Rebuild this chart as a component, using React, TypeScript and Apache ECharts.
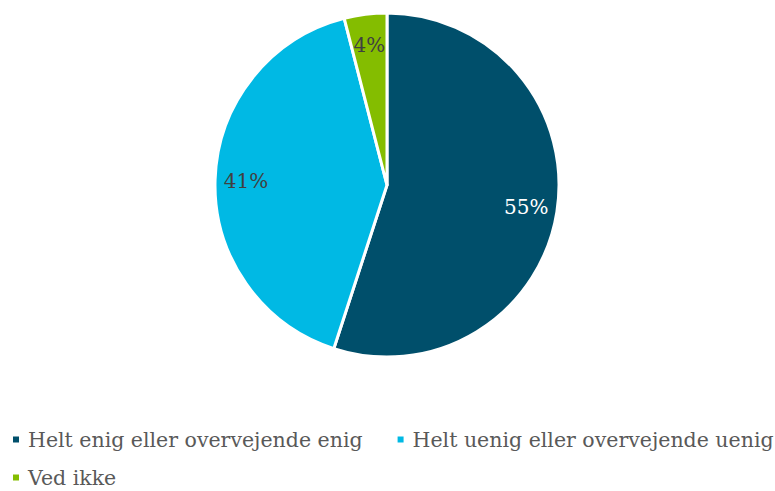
import React, { useEffect, useRef } from "react";
import * as echarts from "echarts";

const categories = [
  "Helt enig eller overvejende enig",
  "Helt uenig eller overvejende uenig",
  "Ved ikke",
];
const values = [55, 41, 4];
const colors = ["#004F6B", "#00B9E4", "#84BD00"];
const labelColors = ["#FFFFFF", "#404040", "#404040"];

export default function App() {
  const ref = useRef<HTMLDivElement>(null);
  useEffect(() => {
    document.body.style.margin = "0";
    const chart = echarts.init(ref.current!, null, { renderer: "svg" });
    const font = "'DejaVu Serif', Georgia, serif";
    const legendBase = {
      left: 11,
      padding: 0,
      icon: "rect",
      itemWidth: 8,
      itemHeight: 8,
      itemGap: 33,
      orient: "horizontal",
      textStyle: {
        fontFamily: font,
        fontSize: 20.5,
        lineHeight: 19,
        color: "#595959",
        padding: [0, 0, 0, 3],
      },
    };
    chart.setOption({
      animation: false,
      backgroundColor: "#FFFFFF",
      legend: [
        { ...legendBase, top: 429, data: categories.slice(0, 2) },
        { ...legendBase, top: 467, data: categories.slice(2) },
      ],
      series: [
        {
          type: "pie",
          center: [387, 185],
          radius: [0, 172],
          startAngle: 90,
          clockwise: true,
          silent: true,
          label: { show: false },
          labelLine: { show: false },
          itemStyle: { borderColor: "#FFFFFF", borderWidth: 3 },
          data: categories.map((name, i) => ({
            name,
            value: values[i],
            itemStyle: { color: colors[i] },
          })),
        },
        {
          type: "pie",
          center: [387, 185],
          radius: [100, 176],
          startAngle: 90,
          clockwise: true,
          silent: true,
          legendHoverLink: false,
          labelLine: { show: false },
          label: {
            show: true,
            position: "inside",
            formatter: "{c}%",
            fontFamily: font,
            fontSize: 20,
          },
          itemStyle: { color: "rgba(0,0,0,0)", borderWidth: 0 },
          data: categories.map((name, i) => ({
            name,
            value: values[i],
            label: { color: labelColors[i] },
          })),
        },
      ],
    });
    return () => chart.dispose();
  }, []);
  return <div ref={ref} style={{ width: 775, height: 491 }} />;
}
